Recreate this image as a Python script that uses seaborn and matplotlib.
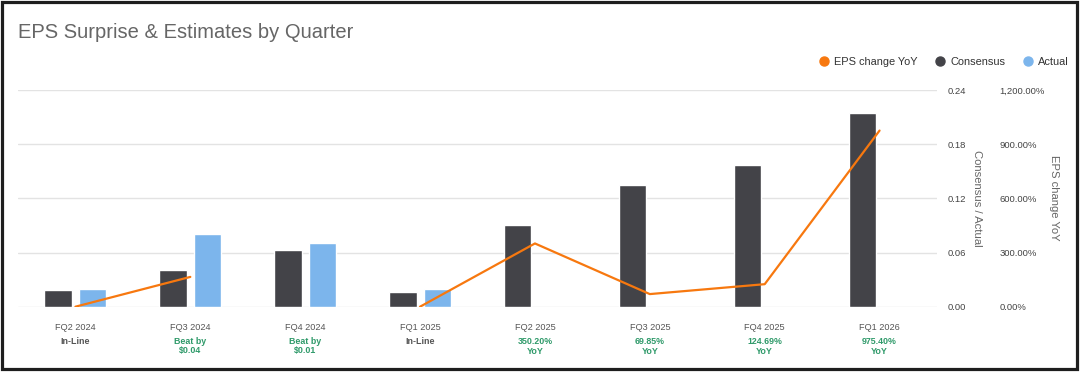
import numpy as np
import pandas as pd
import matplotlib
matplotlib.use("Agg")
import matplotlib.pyplot as plt
from matplotlib.lines import Line2D
from matplotlib.patches import Rectangle
from matplotlib.ticker import FuncFormatter
import seaborn as sns

# ---- data ----
quarters = ["FQ2 2024", "FQ3 2024", "FQ4 2024", "FQ1 2025",
            "FQ2 2025", "FQ3 2025", "FQ4 2025", "FQ1 2026"]
consensus = [0.018, 0.041, 0.063, 0.016, 0.090, 0.135, 0.157, 0.215]
actual = [0.020, 0.080, 0.070, 0.020, np.nan, np.nan, np.nan, np.nan]
eps_yoy = [0.0, 165.0, np.nan, 0.0, 350.20, 69.85, 124.69, 975.40]
sub_labels = ["In-Line", "Beat by\n$0.04", "Beat by\n$0.01", "In-Line",
              "350.20%\nYoY", "69.85%\nYoY", "124.69%\nYoY", "975.40%\nYoY"]
sub_positive = [False, True, True, False, True, True, True, True]

# ---- style ----
sns.set_theme(style="white")
plt.rcParams["font.family"] = ["Liberation Sans", "DejaVu Sans"]

C_CONS = "#434348"
C_ACT = "#7cb5ec"
C_LINE = "#f7780f"
C_GREEN = "#2f9a6a"
C_GRID = "#e3e3e3"

W, H = 1080, 372
fig = plt.figure(figsize=(W / 100, H / 100), dpi=100)
ax = fig.add_axes([18 / W, (H - 306.7) / H, (937 - 18) / W, (306.7 - 90) / H])

# bars
bar_df = pd.DataFrame({
    "quarter": quarters * 2,
    "series": ["Consensus"] * len(quarters) + ["Actual"] * len(quarters),
    "value": consensus + actual,
})
sns.barplot(data=bar_df, x="quarter", y="value", hue="series",
            order=quarters, hue_order=["Consensus", "Actual"],
            palette={"Consensus": C_CONS, "Actual": C_ACT},
            width=0.6, gap=0.2, dodge=True, legend=False, ax=ax,
            saturation=1, err_kws={"linewidth": 0})

ax.set_ylim(0, 0.24)
ax.set_xlim(-0.5, len(quarters) - 0.5)
ax.set_xlabel("")
ax.set_ylabel("")
for s in ax.spines.values():
    s.set_visible(False)
ax.grid(axis="y", color=C_GRID, linewidth=1)
ax.set_axisbelow(True)
ax.tick_params(axis="x", length=0, pad=12, labelsize=6.6, labelcolor="#555555")

# line on twin axis
ax2 = ax.twinx()
seg = []
sid = 0
for v in eps_yoy:
    if np.isnan(v):
        sid += 1
    seg.append(sid)
line_df = pd.DataFrame({"x": np.arange(len(quarters)), "yoy": eps_yoy, "seg": seg}).dropna()
sns.lineplot(data=line_df, x="x", y="yoy", units="seg", estimator=None,
             color=C_LINE, linewidth=1.6, ax=ax2, legend=False)
ax2.set_ylim(0, 1200)
ax2.set_xlim(-0.5, len(quarters) - 0.5)
ax2.set_yticks([0, 300, 600, 900, 1200])
ax2.yaxis.set_major_formatter(FuncFormatter(lambda v, p: f"{v:,.2f}%"))
ax2.tick_params(axis="y", length=0, pad=45, labelsize=6.8, labelcolor="#444444")
for s in ax2.spines.values():
    s.set_visible(False)
ax2.set_xlabel("")
ax2.set_ylabel("")
ax2.grid(False)

# left (bar) axis ticks shown on the right side
ax.set_yticks([0, 0.06, 0.12, 0.18, 0.24])
ax.yaxis.set_major_formatter(FuncFormatter(lambda v, p: f"{v:.2f}"))
ax.yaxis.tick_right()
ax.tick_params(axis="y", which="both", left=False, labelleft=False,
               right=False, labelright=True, length=0, pad=7.5,
               labelsize=6.8, labelcolor="#444444")

# sub labels under categories
for i, (lab, pos) in enumerate(zip(sub_labels, sub_positive)):
    ax.annotate(lab, xy=(i, 0), xycoords=("data", "axes fraction"),
                xytext=(0, -(337.5 - 306.7) * 0.72), textcoords="offset points",
                ha="center", va="top", fontsize=6.4, fontweight="bold",
                color=C_GREEN if pos else "#555555", linespacing=1.0)

# axis titles
fig.text(977 / W, 1 - 198 / H, "Consensus / Actual", rotation=270,
         ha="center", va="center", fontsize=8.1, color="#666666")
fig.text(1054 / W, 1 - 198 / H, "EPS change YoY", rotation=270,
         ha="center", va="center", fontsize=8.1, color="#666666")

# title
fig.text(18 / W, 1 - 32 / H, "EPS Surprise & Estimates by Quarter",
         ha="left", va="center", fontsize=14.5, color="#666666")

# legend
handles = [Line2D([], [], marker="o", linestyle="", markersize=6.5, color=c)
           for c in (C_LINE, C_CONS, C_ACT)]
fig.legend(handles, ["EPS change YoY", "Consensus", "Actual"],
           loc="center right", bbox_to_anchor=(1069 / W, 1 - 62 / H),
           ncol=3, frameon=False, fontsize=7.9, labelcolor="#333333",
           handlelength=0.8, handletextpad=0.5, columnspacing=1.7,
           borderpad=0, borderaxespad=0)

# border
fig.patches.append(Rectangle((1.5 / W, (H - 368.5) / H), (1076.5 - 1.5) / W,
                             (368.5 - 1.5) / H, transform=fig.transFigure,
                             fill=False, edgecolor="#1e1e1e", linewidth=2.3))

fig.savefig("out.png", dpi=100)
